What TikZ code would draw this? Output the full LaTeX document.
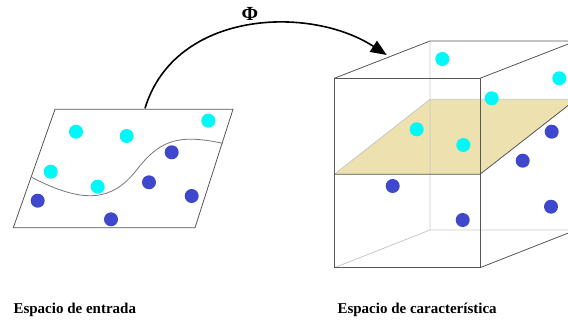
\documentclass[tikz,border=0pt]{standalone}
\usepackage{fontspec}
\setmainfont{Liberation Serif}
\usetikzlibrary{arrows.meta}
\definecolor{ptcyan}{HTML}{00F8F8}
\definecolor{ptblue}{HTML}{3F48CC}
\definecolor{planetan}{HTML}{EDE1AF}
\definecolor{edgegray}{HTML}{555555}
\definecolor{backgray}{HTML}{C8C8C8}
\begin{document}
\begin{tikzpicture}[x=1pt,y=-1pt,
  cpt/.style={circle,fill=ptcyan,inner sep=0pt,minimum size=14pt},
  bpt/.style={circle,fill=ptblue,inner sep=0pt,minimum size=14pt},
  edge/.style={draw=edgegray,line width=0.8pt},
  backedge/.style={draw=backgray,line width=0.8pt},
  lbl/.style={font=\bfseries\fontsize{15}{18}\selectfont}]
  \useasboundingbox (0,0) rectangle (568,324);
  \clip (0,0) rectangle (568,324);
  % espacio de entrada
  \coordinate (p0) at (55,109.3);
  \coordinate (p1) at (233,109.3);
  \coordinate (p2) at (195,227.7);
  \coordinate (p3) at (13.3,227.7);
  \draw[edge] (p0) -- (p1) -- (p2) -- (p3) -- cycle;
  \coordinate (s0) at (31.7,177.3);
  \coordinate (s1) at (222.7,143.3);
  \draw[draw=edgegray!80,line width=0.8pt] (s0) .. controls (85,205) and (112,200) .. (135,172)
     .. controls (158,142) and (175,133) .. (s1);
  \node[cpt] (c1) at (76,131.7) {};
  \node[cpt] (c2) at (126.7,136) {};
  \node[cpt] (c3) at (208.3,120.7) {};
  \node[cpt] (c4) at (50.7,171.7) {};
  \node[cpt] (c5) at (97.7,186.7) {};
  \node[bpt] (b1) at (171.7,152.3) {};
  \node[bpt] (b2) at (149,182.3) {};
  \node[bpt] (b3) at (191.7,196) {};
  \node[bpt] (b4) at (37.7,200.7) {};
  \node[bpt] (b5) at (111,219.3) {};
  % espacio de caracteristica
  \coordinate (f0) at (334.3,78.3);
  \coordinate (f1) at (480,78.3);
  \coordinate (f2) at (480,267.7);
  \coordinate (f3) at (334.3,267.7);
  \coordinate (k0) at (430,41);
  \coordinate (k1) at (576,41);
  \coordinate (k2) at (576,230);
  \coordinate (k3) at (430,230);
  \coordinate (h0) at (334.3,174.3);
  \coordinate (h1) at (480,174.3);
  \coordinate (h2) at (576,99.3);
  \coordinate (h3) at (430,99.3);
  \fill[planetan] (h0) -- (h1) -- (h2) -- (h3) -- cycle;
  \draw[backedge] (h0) -- (h3) -- (h2);
  \draw[backedge] (k0) -- (k3) -- (k2) (k3) -- (f3);
  \draw[edge] (h0) -- (h1) -- (h2);
  \draw[edge] (f0) -- (f1) -- (f2) -- (f3) -- cycle;
  \draw[edge] (f0) -- (k0) -- (k1) (f1) -- (k1) (f2) -- (k2);
  \node[cpt] (c6) at (442.3,59) {};
  \node[cpt] (c7) at (559.3,78.3) {};
  \node[cpt] (c8) at (491.7,98.3) {};
  \node[cpt] (c9) at (416.7,129.3) {};
  \node[cpt] (c10) at (463.3,145) {};
  \node[bpt] (b6) at (551.7,131.7) {};
  \node[bpt] (b7) at (522.7,160.7) {};
  \node[bpt] (b8) at (392.7,186) {};
  \node[bpt] (b9) at (462.7,220) {};
  \node[bpt] (b10) at (551,206.7) {};
  % mapeo
  \coordinate (a0) at (145,108.3);
  \coordinate (a1) at (386.7,55);
  \draw[line width=1.6pt,-{Triangle[length=16pt,width=13pt]}] (a0) .. controls (175,10) and (310,5) .. (a1);
  \node[lbl,font=\bfseries\fontsize{20}{24}\selectfont] (phi) at (250,14) {Φ};
  \node[lbl,anchor=west] (lin) at (10,310) {Espacio de entrada};
  \node[lbl,anchor=west] (lout) at (334,310) {Espacio de característica};
\end{tikzpicture}
\end{document}
